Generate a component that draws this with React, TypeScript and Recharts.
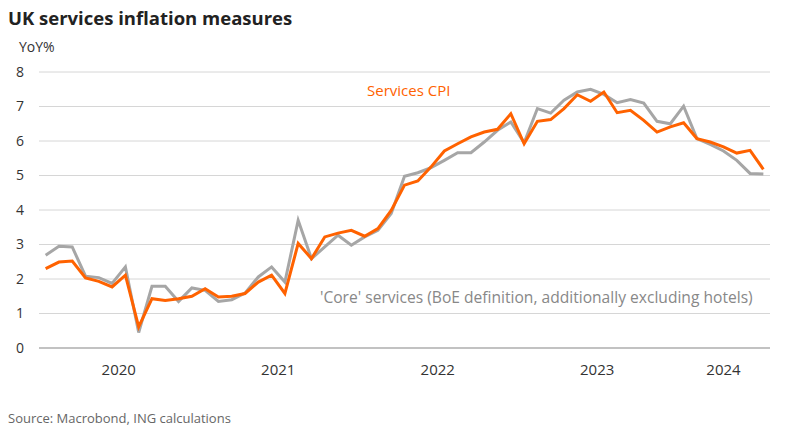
import { LineChart, Line, XAxis, YAxis, CartesianGrid } from 'recharts';

const months = [
  'Jan 20', 'Feb 20', 'Mar 20', 'Apr 20', 'May 20', 'Jun 20', 'Jul 20', 'Aug 20', 'Sep 20', 'Oct 20', 'Nov 20', 'Dec 20',
  'Jan 21', 'Feb 21', 'Mar 21', 'Apr 21', 'May 21', 'Jun 21', 'Jul 21', 'Aug 21', 'Sep 21', 'Oct 21', 'Nov 21', 'Dec 21',
  'Jan 22', 'Feb 22', 'Mar 22', 'Apr 22', 'May 22', 'Jun 22', 'Jul 22', 'Aug 22', 'Sep 22', 'Oct 22', 'Nov 22', 'Dec 22',
  'Jan 23', 'Feb 23', 'Mar 23', 'Apr 23', 'May 23', 'Jun 23', 'Jul 23', 'Aug 23', 'Sep 23', 'Oct 23', 'Nov 23', 'Dec 23',
  'Jan 24', 'Feb 24', 'Mar 24', 'Apr 24', 'May 24', 'Jun 24', 'Jul 24',
];

const servicesCpi = [
  2.30, 2.49, 2.52, 2.03, 1.93, 1.77, 2.11, 0.61, 1.43, 1.38, 1.43, 1.50,
  1.72, 1.48, 1.50, 1.58, 1.91, 2.11, 1.58, 3.03, 2.59, 3.22, 3.33, 3.41,
  3.24, 3.46, 3.99, 4.72, 4.84, 5.25, 5.71, 5.92, 6.12, 6.26, 6.34, 6.79,
  5.92, 6.57, 6.62, 6.94, 7.34, 7.15, 7.42, 6.82, 6.89, 6.60, 6.26, 6.41,
  6.53, 6.07, 5.97, 5.83, 5.65, 5.73, 5.18,
];

const coreServices = [
  2.69, 2.95, 2.93, 2.08, 2.04, 1.87, 2.35, 0.45, 1.79, 1.79, 1.35, 1.74,
  1.67, 1.35, 1.40, 1.59, 2.06, 2.35, 1.91, 3.70, 2.59, 2.93, 3.27, 2.98,
  3.22, 3.41, 3.90, 4.98, 5.08, 5.23, 5.44, 5.66, 5.66, 5.97, 6.31, 6.55,
  5.95, 6.94, 6.81, 7.18, 7.42, 7.50, 7.35, 7.11, 7.20, 7.10, 6.57, 6.50,
  7.01, 6.07, 5.90, 5.71, 5.44, 5.06, 5.04,
];

const yTicks = [0, 1, 2, 3, 4, 5, 6, 7, 8];
const yearBreaks = [0, 12, 24, 36, 48];
const yearLabelPos = [6, 18, 30, 42, 51.5];
const yearLabels = ['2020', '2021', '2022', '2023', '2024'];

const data = months.map((m, i) => ({
  month: m,
  x: i + 0.5,
  services: servicesCpi[i],
  core: coreServices[i],
}));

const FONT = '"Open Sans", sans-serif';
const ORANGE = '#FF6200';
const GREY = '#A6A6A6';

export default function App() {
  return (
    <div
      style={{
        position: 'absolute',
        left: 0,
        top: 0,
        width: 789,
        height: 430,
        background: '#fff',
        fontFamily: FONT,
        color: '#333',
      }}
    >
      <div style={{ position: 'absolute', left: 8, top: 5, fontSize: 18.5, fontWeight: 700, color: '#222' }}>
        UK services inflation measures
      </div>
      <div style={{ position: 'absolute', left: 19, top: 37, fontSize: 14, color: '#333' }}>YoY%</div>

      <LineChart
        width={789}
        height={430}
        data={data}
        margin={{ top: 72, right: 19, left: 0, bottom: 44 }}
        style={{ position: 'absolute', left: 0, top: 0 }}
      >
        <CartesianGrid vertical={false} stroke="#d6d6d6" strokeWidth={1} />
        <XAxis
          dataKey="x"
          type="number"
          domain={[0, 55]}
          ticks={yearBreaks}
          height={8}
          tick={false}
          tickSize={8}
          tickLine={{ stroke: '#999' }}
          axisLine={{ stroke: '#999' }}
          allowDataOverflow
        />
        <XAxis
          xAxisId="years"
          dataKey="x"
          type="number"
          domain={[0, 55]}
          ticks={yearLabelPos}
          height={30}
          axisLine={false}
          tickLine={false}
          tickSize={0}
          tickMargin={8}
          tickFormatter={(v: number) => yearLabels[yearLabelPos.indexOf(v)]}
          tick={{ fill: '#333', fontSize: 15, fontFamily: FONT }}
          allowDataOverflow
        />
        <YAxis
          domain={[0, 8]}
          ticks={yTicks}
          width={39}
          axisLine={false}
          tickLine={false}
          tickSize={0}
          tickMargin={15}
          tick={{ fill: '#333', fontSize: 14, fontFamily: FONT }}
        />
        <Line
          type="linear"
          dataKey="core"
          stroke={GREY}
          strokeWidth={3}
          dot={false}
          isAnimationActive={false}
        />
        <Line
          type="linear"
          dataKey="services"
          stroke={ORANGE}
          strokeWidth={3}
          dot={false}
          isAnimationActive={false}
        />
      </LineChart>

      <div style={{ position: 'absolute', left: 367, top: 80, fontSize: 15, color: ORANGE }}>Services CPI</div>
      <div style={{ position: 'absolute', left: 320, top: 286, fontSize: 15.6, color: '#888', whiteSpace: 'nowrap' }}>
        'Core' services (BoE definition, additionally excluding hotels)
      </div>
      <div style={{ position: 'absolute', left: 8, top: 409, fontSize: 13, color: '#666' }}>
        Source: Macrobond, ING calculations
      </div>
    </div>
  );
}
